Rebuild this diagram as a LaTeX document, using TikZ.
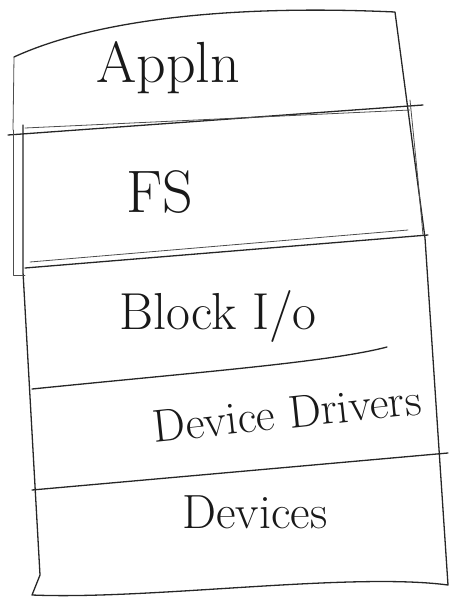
\documentclass[tikz,border=0pt]{standalone}
\begin{document}
\begin{tikzpicture}[x=1pt,y=-1pt,line join=round,line cap=round]
\tikzset{
  ink/.style={draw=black!85,line width=1.3pt},
  thin ink/.style={draw=black!70,line width=0.8pt},
  hand/.style={font=\fontsize{46}{50}\selectfont,text=black!90,inner sep=0pt}
}
\useasboundingbox (0,0) rectangle (449,600);
% outer outline
\coordinate (tl) at (14,57);
\coordinate (tr) at (395,12);
\coordinate (mr) at (425,238);
\coordinate (br) at (448,585);
\coordinate (bl) at (32,595);
\coordinate (ml) at (23,272);
\draw[ink] (tl) .. controls (90,22) and (220,4) .. (tr) -- (mr) -- (br)
  .. controls (350,572) and (150,600) .. (bl) -- (40,575) -- (ml) -- (23,125);
\draw[thin ink] (tl) -- (13,130);
% Appln / FS line (double)
\draw[ink] (8,135) -- (423,105);
\draw[thin ink] (25,128) -- (410,110);
% FS box sides
\draw[thin ink] (13,130) -- (13,275) -- (25,275);
\draw[thin ink] (410,100) -- (418,180) -- (423,235);
% FS / Block line (double)
\draw[ink] (25,268) -- (428,235);
\draw[thin ink] (30,262) -- (408,230);
% Block / Device Drivers line
\draw[ink] (32,389) .. controls (200,372) and (330,362) .. (387,347);
% Device Drivers / Devices line
\draw[ink] (32,490) -- (448,453);
% labels
\node[hand,font=\fontsize{58}{62}\selectfont] (appln) at (168,68) {Appln};
\node[hand,font=\fontsize{60}{64}\selectfont] (fs) at (160,192) {FS};
\node[hand,font=\fontsize{52}{56}\selectfont] (block) at (218,316) {Block I/o};
\node[hand,rotate=6] (drivers) at (287,413) {Device Drivers};
\node[hand,font=\fontsize{48}{52}\selectfont] (devices) at (255,512) {Devices};
\end{tikzpicture}
\end{document}
